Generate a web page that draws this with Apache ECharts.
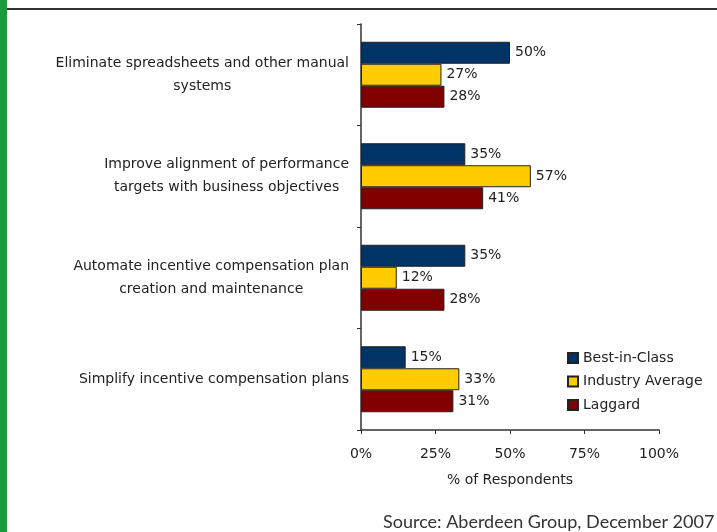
<!DOCTYPE html>
<html>
<head>
<meta charset="utf-8">
<script src="https://cdn.jsdelivr.net/npm/echarts@6/dist/echarts.min.js"></script>
<style>html,body{margin:0;padding:0;background:#fff}#c{width:717px;height:532px}</style>
</head>
<body>
<div id="c"></div>
<script>
const categories = [
  "Eliminate spreadsheets and other manual\nsystems",
  "Improve alignment of performance\ntargets with business objectives",
  "Automate incentive compensation plan\ncreation and maintenance",
  "Simplify incentive compensation plans"
];
const seriesNames = ["Best-in-Class", "Industry Average", "Laggard"];
const bestInClass = [50, 35, 35, 15];
const industryAverage = [27, 57, 12, 33];
const laggard = [28, 41, 28, 31];
const xTicks = [0, 25, 50, 75, 100];
const axisTitle = "% of Respondents";
const sourceText = "Source: Aberdeen Group, December 2007";

const colors = ["#003366", "#FFCC00", "#800000"];
const FONT = "DejaVu Sans";
const FS = 14;
const chart = echarts.init(document.getElementById('c'));

function mkSeries(name, data, color) {
  return {
    name: name, type: 'bar', data: data,
    barGap: '0%', barCategoryGap: '35%',
    itemStyle: { color: color, borderColor: '#222', borderWidth: 1 },
    label: {
      show: true, position: 'right', distance: 5,
      formatter: '{c}%', color: '#222', fontFamily: FONT, fontSize: FS
    }
  };
}

chart.setOption({
  animation: false,
  grid: { left: 361, right: 58, top: 24, bottom: 102 },
  legend: {
    orient: 'vertical', left: 562, top: 346, itemGap: 9.5,
    icon: 'rect', itemWidth: 10, itemHeight: 10,
    data: seriesNames,
    textStyle: { color: '#222', fontFamily: FONT, fontSize: FS }
  },
  xAxis: {
    type: 'value', min: xTicks[0], max: xTicks[xTicks.length - 1], interval: 25,
    name: axisTitle, nameLocation: 'middle', nameGap: 43,
    nameTextStyle: { color: '#222', fontFamily: FONT, fontSize: FS },
    axisLine: { show: true, lineStyle: { color: '#333', width: 1.5 } },
    axisTick: { show: true, length: 4, lineStyle: { color: '#333' } },
    splitLine: { show: false },
    axisLabel: { formatter: '{value}%', margin: 17, color: '#222', fontFamily: FONT, fontSize: FS }
  },
  yAxis: {
    type: 'category', data: categories, inverse: true,
    axisLine: { show: true, lineStyle: { color: '#333', width: 1.5 } },
    axisTick: { show: true, length: 4, lineStyle: { color: '#333' } },
    axisLabel: {
      margin: 12, align: 'right', color: '#222', fontFamily: FONT, fontSize: FS,
      formatter: function (v) { return v.split('\n').map(s => '{c|' + s + '}').join('\n'); },
      rich: { c: { align: 'center', lineHeight: 23, fontFamily: FONT, fontSize: FS, color: '#222' } }
    }
  },
  series: [
    mkSeries(seriesNames[0], bestInClass, colors[0]),
    mkSeries(seriesNames[1], industryAverage, colors[1]),
    mkSeries(seriesNames[2], laggard, colors[2])
  ],
  graphic: [
    { type: 'rect', left: 0, top: 0, shape: { width: 7, height: 532 }, style: { fill: '#1a9a3c' } },
    { type: 'line', shape: { x1: 7, y1: 9, x2: 717, y2: 9 }, style: { stroke: '#333', lineWidth: 2 } },
    { type: 'text', x: 383, y: 522, style: { text: sourceText, fill: '#333', font: '18px Lato', verticalAlign: 'middle' } }
  ]
});
</script>
</body>
</html>
